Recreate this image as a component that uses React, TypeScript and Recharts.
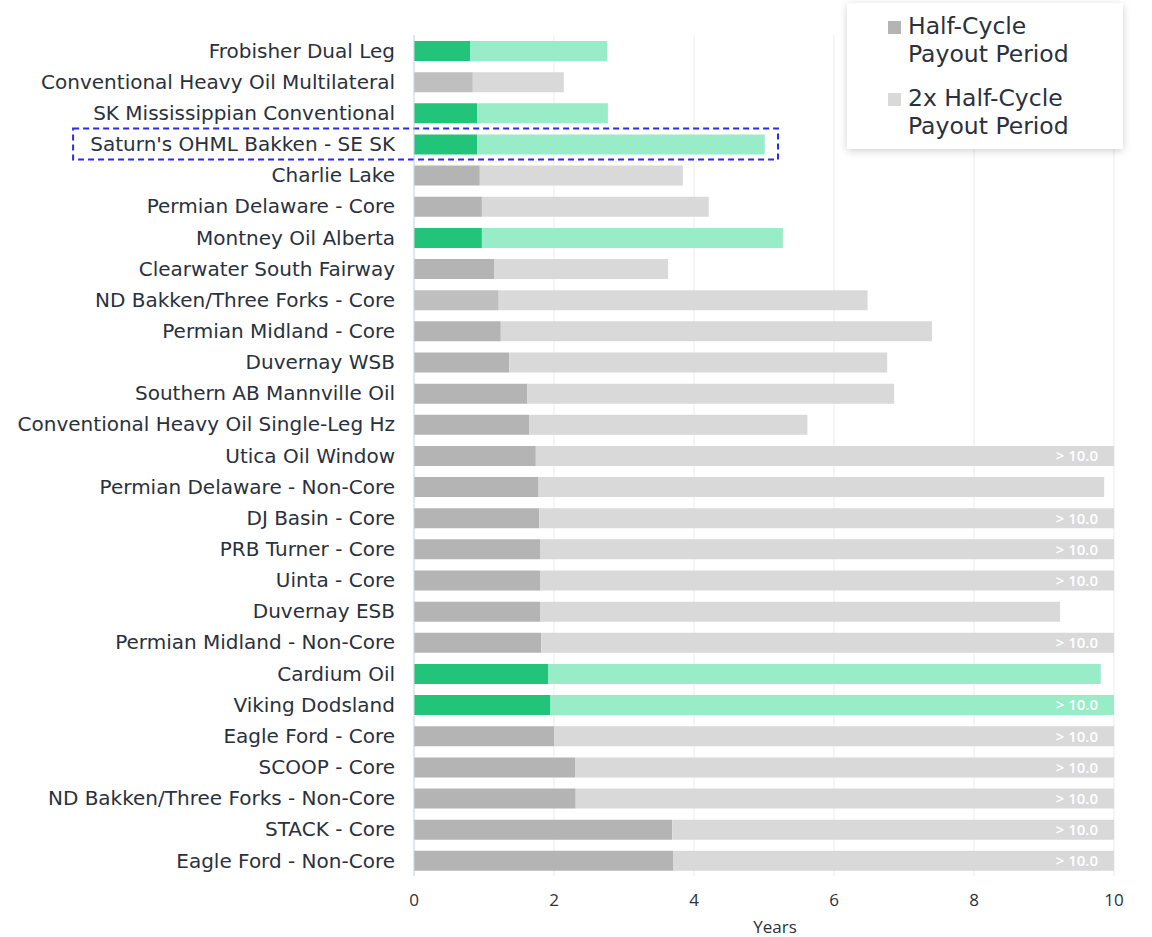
import {
    BarChart,
    Bar,
    XAxis,
    YAxis,
    CartesianGrid,
    Cell,
    Legend,
    LabelList,
    ReferenceArea,
} from "recharts";

const plays = [
    "Frobisher Dual Leg",
    "Conventional Heavy Oil Multilateral",
    "SK Mississippian Conventional",
    "Saturn's OHML Bakken - SE SK",
    "Charlie Lake",
    "Permian Delaware - Core",
    "Montney Oil Alberta",
    "Clearwater South Fairway",
    "ND Bakken/Three Forks - Core",
    "Permian Midland - Core",
    "Duvernay WSB",
    "Southern AB Mannville Oil",
    "Conventional Heavy Oil Single-Leg Hz",
    "Utica Oil Window",
    "Permian Delaware - Non-Core",
    "DJ Basin - Core",
    "PRB Turner - Core",
    "Uinta - Core",
    "Duvernay ESB",
    "Permian Midland - Non-Core",
    "Cardium Oil",
    "Viking Dodsland",
    "Eagle Ford - Core",
    "SCOOP - Core",
    "ND Bakken/Three Forks - Non-Core",
    "STACK - Core",
    "Eagle Ford - Non-Core",
];

// years to pay out half-cycle capital
const halfCycle = [
    0.8, 0.84, 0.9, 0.9, 0.94, 0.97, 0.97, 1.15, 1.21, 1.24, 1.36, 1.62, 1.65, 1.74,
    1.78, 1.79, 1.8, 1.8, 1.8, 1.82, 1.92, 1.95, 2.0, 2.3, 2.31, 3.69, 3.7,
];

// years to pay out 2x half-cycle; null = beyond the axis (> 10.0)
const doubleHalfCycle = [
    2.76, 2.14, 2.77, 5.01, 3.84, 4.21, 5.27, 3.63, 6.48, 7.4, 6.76, 6.86, 5.62, null,
    9.86, null, null, null, 9.23, null, 9.81, null, null, null, null, null, null,
];

const seriesNames = ["Half-Cycle Payout Period", "2x Half-Cycle Payout Period"];

const saturnPlays = [
    "Frobisher Dual Leg",
    "SK Mississippian Conventional",
    "Saturn's OHML Bakken - SE SK",
    "Montney Oil Alberta",
    "Cardium Oil",
    "Viking Dodsland",
];
const fadedPlays = ["Conventional Heavy Oil Multilateral", "ND Bakken/Three Forks - Core"];
const highlightPlay = "Saturn's OHML Bakken - SE SK";

const xTicks = [0, 2, 4, 6, 8, 10];
const AXIS_MAX = 10;

const data = plays.map((name, i) => {
    const full = doubleHalfCycle[i] ?? AXIS_MAX;
    return {
        name,
        half: halfCycle[i],
        rest: full - halfCycle[i],
        over: doubleHalfCycle[i] === null ? "> 10.0" : undefined,
    };
});

const FONT = "'DejaVu Sans', sans-serif";
const TEXT = "#2a313d";

const darkFill = (name: string) =>
    saturnPlays.includes(name) ? "#22c47a" : fadedPlays.includes(name) ? "#bfbfbf" : "#b4b4b4";
const lightFill = (name: string) => (saturnPlays.includes(name) ? "#98edc8" : "#d9d9d9");

const LegendBox = ({ payload }: any) => {
    const items = [...(payload || [])].sort(
        (a: any, b: any) => seriesNames.indexOf(a.value) - seriesNames.indexOf(b.value)
    );
    return (
        <div
            style={{
                background: "#fff",
                boxShadow: "0 2px 8px rgba(0,0,0,0.18)",
                width: 276,
                height: 146,
                boxSizing: "border-box",
                padding: "9px 0 0 41px",
                fontFamily: FONT,
            }}
        >
            {items.map((p: any) => (
                <div key={p.value} style={{ display: "flex", alignItems: "flex-start", marginBottom: 16 }}>
                    <span
                        style={{
                            width: 13,
                            height: 13,
                            background: p.color,
                            marginTop: 9,
                            marginRight: 7,
                            flexShrink: 0,
                        }}
                    />
                    <span style={{ fontSize: 23.5, lineHeight: "28px", color: TEXT, width: 188 }}>
                        {p.value}
                    </span>
                </div>
            ))}
        </div>
    );
};

export default function App() {
    return (
        <div style={{ position: "absolute", left: 0, top: 0, width: 1152, height: 937, background: "#fff" }}>
            <BarChart
                width={1152}
                height={937}
                data={data}
                layout="vertical"
                margin={{ top: 35, right: 38, bottom: 0, left: 0 }}
                barSize={20}
                style={{ fontFamily: FONT }}
            >
                <CartesianGrid horizontal={false} stroke="#ebebeb" />
                <XAxis
                    type="number"
                    domain={[0, AXIS_MAX]}
                    ticks={xTicks}
                    allowDataOverflow
                    axisLine={false}
                    tickLine={false}
                    tickSize={0}
                    tickMargin={18}
                    height={61}
                    tick={{ fill: TEXT, fontSize: 17, fontFamily: "'Open Sans', sans-serif" }}
                    label={{
                        value: "Years",
                        position: "insideBottom",
                        offset: 4,
                        dx: 11,
                        fill: TEXT,
                        fontSize: 17,
                        fontFamily: "'Open Sans', sans-serif",
                    }}
                />
                <YAxis
                    type="category"
                    dataKey="name"
                    width={414}
                    interval={0}
                    tickLine={false}
                    tickSize={0}
                    tickMargin={19}
                    axisLine={{ stroke: "#ccd6eb" }}
                    tick={{ fill: TEXT, fontSize: 20 }}
                />
                <Legend
                    layout="vertical"
                    align="center"
                    verticalAlign="middle"
                    wrapperStyle={{ position: "absolute", left: 847, top: 3, width: 276, height: 146 }}
                    content={<LegendBox />}
                />
                <Bar dataKey="half" stackId="p" name={seriesNames[0]} fill="#b4b4b4" isAnimationActive={false}>
                    {data.map((d) => (
                        <Cell key={d.name} fill={darkFill(d.name)} />
                    ))}
                </Bar>
                <Bar dataKey="rest" stackId="p" name={seriesNames[1]} fill="#d9d9d9" isAnimationActive={false}>
                    {data.map((d) => (
                        <Cell key={d.name} fill={lightFill(d.name)} />
                    ))}
                    <LabelList
                        dataKey="over"
                        position="insideRight"
                        offset={16}
                        fill="#ffffff"
                        fontSize={15}
                        fontWeight={600}
                        fontFamily="'Open Sans', sans-serif"
                    />
                </Bar>
                <ReferenceArea
                    y1={highlightPlay}
                    y2={highlightPlay}
                    x1={-4.87}
                    x2={5.2}
                    ifOverflow="visible"
                    fill="none"
                    stroke="#2a2af0"
                    strokeWidth={2}
                    strokeDasharray="6 4"
                />
            </BarChart>
        </div>
    );
}
